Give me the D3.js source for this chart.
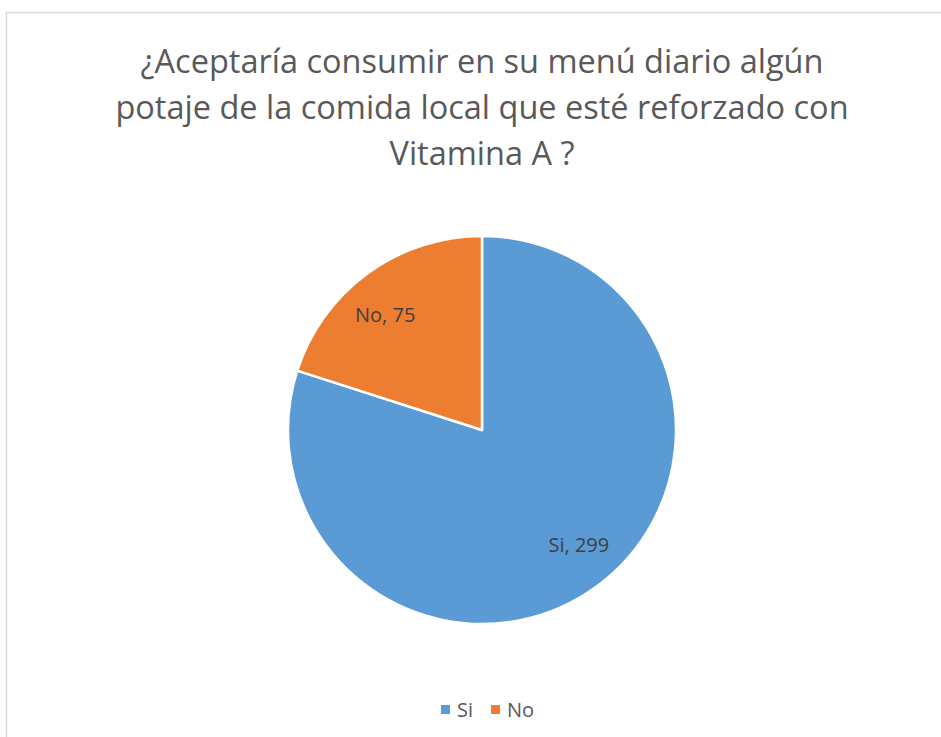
<!DOCTYPE html>
<html>
<head>
<meta charset="utf-8">
<script src="https://cdn.jsdelivr.net/npm/d3@7"></script>
<style>
    body { margin: 0; background: #fff; }
    text { font-family: "Open Sans", "Noto Sans", sans-serif; }
</style>
</head>
<body>
<div id="chart"></div>
<script>
var categories = ["Si", "No"];
var values = [299, 75];
var colors = ["#5B9BD5", "#ED7D31"];
var titleLines = [
    "¿Aceptaría consumir en su menú diario algún",
    "potaje de la comida local que esté reforzado con",
    "Vitamina A ?"
];

var width = 941;
var height = 737;

var svg = d3.select("#chart")
    .append("svg")
    .attr("width", width)
    .attr("height", height);

// chart frame (right / bottom edges fall outside the picture)
svg.append("rect")
    .attr("x", 6.5)
    .attr("y", 12.5)
    .attr("width", 960)
    .attr("height", 760)
    .style("fill", "#fff")
    .style("stroke", "#d9d9d9")
    .style("stroke-width", 1.5);

svg.append("g")
    .selectAll("text")
    .data(titleLines)
    .enter()
    .append("text")
    .attr("x", 482)
    .attr("y", function (d, i) { return 73 + i * 46; })
    .attr("text-anchor", "middle")
    .style("font-size", "32.5px")
    .style("fill", "#595959")
    .text(function (d) { return d; });

var data = categories.map(function (c, i) {
    return { name: c, value: values[i] };
});

var cx = 482, cy = 430, r = 194;

var pie = d3.pie()
    .sort(null)
    .value(function (d) { return d.value; });

var arc = d3.arc().innerRadius(0).outerRadius(r);

var g = svg.append("g").attr("transform", "translate(" + cx + "," + cy + ")");

var slices = g.selectAll("g.slice")
    .data(pie(data))
    .enter()
    .append("g")
    .attr("class", "slice");

slices.append("path")
    .attr("d", arc)
    .style("fill", function (d, i) { return colors[i]; })
    .style("stroke", "#fff")
    .style("stroke-width", 2.5)
    .style("stroke-linejoin", "round");

// labels a bit counter-clockwise of the mid angle, like the original
slices.append("text")
    .attr("transform", function (d) {
        var a = (d.startAngle + d.endAngle) / 2 - 4 * Math.PI / 180;
        var lr = r * 0.775;
        return "translate(" + (Math.sin(a) * lr) + "," + (-Math.cos(a) * lr) + ")";
    })
    .attr("text-anchor", "middle")
    .attr("dy", "0.35em")
    .style("font-size", "20px")
    .style("fill", "#404040")
    .text(function (d) { return d.data.name + ", " + d.data.value; });

// legend
var legendX = [441, 491];
var legend = svg.append("g")
    .selectAll("g")
    .data(data)
    .enter()
    .append("g")
    .attr("transform", function (d, i) { return "translate(" + legendX[i] + ",705)"; });

legend.append("rect")
    .attr("width", 9)
    .attr("height", 9)
    .style("fill", function (d, i) { return colors[i]; });

legend.append("text")
    .attr("x", 16)
    .attr("y", 12)
    .style("font-size", "20px")
    .style("fill", "#595959")
    .text(function (d) { return d.name; });
</script>
</body>
</html>
